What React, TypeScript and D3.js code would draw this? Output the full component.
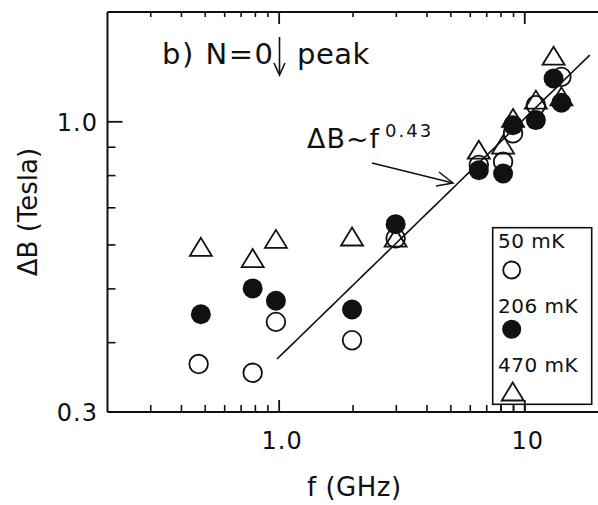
import React from "react";
import * as d3 from "d3";

// ---- data ----
const freq50 = [0.47, 0.78, 0.97, 1.98, 2.98, 6.5, 8.16, 8.96, 11.1, 14.1];
const b50 = [0.366, 0.353, 0.436, 0.404, 0.617, 0.836, 0.847, 0.953, 1.071, 1.205];

const freq206 = [0.48, 0.78, 0.97, 1.98, 2.98, 6.5, 8.16, 8.96, 11.1, 13.1, 14.1];
const b206 = [0.45, 0.501, 0.476, 0.459, 0.654, 0.818, 0.807, 0.986, 1.007, 1.197, 1.082];

const freq470 = [0.48, 0.78, 0.97, 1.98, 2.98, 6.5, 8.16, 8.96, 11.1, 13.1, 14.1];
const b470 = [0.594, 0.567, 0.614, 0.62, 0.617, 0.889, 0.908, 1.014, 1.094, 1.313, 1.109];

const fitCoef = 0.377;
const fitExponent = 0.43;
const fitRange = [0.98, 18.4];

const xDomain = [0.2, 20];
const yDomain = [0.3, 1.577];
const xMajorTicks = [1, 10];
const xMajorLabels = ["1.0", "10"];
const xMinorTicks = [0.3, 0.4, 0.5, 0.6, 0.7, 0.8, 0.9, 2, 3, 4, 5, 6, 7, 8, 9];
const yMajorTicks = [0.3, 1.0];
const yMajorLabels = ["0.3", "1.0"];
const yMinorTicks = [0.4, 0.5, 0.6, 0.7, 0.8, 0.9];

const legendLabels = ["50 mK", "206 mK", "470 mK"];

const FONT = "'DejaVu Sans', sans-serif";

export default function App() {
  const x = d3.scaleLog().domain(xDomain).range([107.5, 598.7]);
  const y = d3.scaleLog().domain(yDomain).range([412, 12]);
  const left = x(xDomain[0]);
  const right = x(xDomain[1]);
  const top = y(yDomain[1]);
  const bottom = y(yDomain[0]);

  const fitPts: [number, number][] = d3
    .range(0, 41)
    .map((i) => {
      const lf = Math.log10(fitRange[0]) + (i / 40) * (Math.log10(fitRange[1]) - Math.log10(fitRange[0]));
      const f = Math.pow(10, lf);
      return [x(f), y(fitCoef * Math.pow(f, fitExponent))];
    });
  const line = d3.line();

  const tri = (cx: number, cy: number) =>
    `M${cx},${cy - 9.5} L${cx + 11},${cy + 8.5} L${cx - 11},${cy + 8.5} Z`;

  const stroke = "#111";

  return (
    <svg
      width={598}
      height={505}
      style={{ position: "absolute", left: 0, top: 0, background: "#fff" }}
      fontFamily={FONT}
    >
      <rect x={0} y={0} width={598} height={505} fill="#fff" />
      {/* frame */}
      <line x1={left} x2={left} y1={top} y2={bottom} stroke={stroke} strokeWidth={2} />
      <line x1={left} x2={right} y1={bottom} y2={bottom} stroke={stroke} strokeWidth={2} />
      <line x1={left} x2={right} y1={top} y2={top} stroke={stroke} strokeWidth={2} />

      {/* x ticks */}
      {xMinorTicks.map((t) => (
        <g key={"xm" + t}>
          <line x1={x(t)} x2={x(t)} y1={bottom} y2={bottom - 7} stroke={stroke} strokeWidth={1.6} />
          <line x1={x(t)} x2={x(t)} y1={top} y2={top + 5} stroke={stroke} strokeWidth={1.6} />
        </g>
      ))}
      {xMajorTicks.map((t, i) => (
        <g key={"xM" + t}>
          <line x1={x(t)} x2={x(t)} y1={bottom} y2={bottom - 12} stroke={stroke} strokeWidth={1.8} />
          <line x1={x(t)} x2={x(t)} y1={top} y2={top + 12} stroke={stroke} strokeWidth={1.8} />
          <text x={x(t) + 3} y={449} fontSize={24} textAnchor="middle" fill={stroke} letterSpacing={1}>
            {xMajorLabels[i]}
          </text>
        </g>
      ))}

      {/* y ticks */}
      {yMinorTicks.map((t) => (
        <line key={"ym" + t} x1={left} x2={left + 8} y1={y(t)} y2={y(t)} stroke={stroke} strokeWidth={1.6} />
      ))}
      {yMajorTicks.map((t, i) => (
        <g key={"yM" + t}>
          <line x1={left} x2={left + 15} y1={y(t)} y2={y(t)} stroke={stroke} strokeWidth={1.8} />
          <text x={98} y={y(t) + 9} fontSize={24} textAnchor="end" fill={stroke} letterSpacing={1}>
            {yMajorLabels[i]}
          </text>
        </g>
      ))}

      {/* axis titles */}
      <text x={307} y={496} fontSize={26} fill={stroke} letterSpacing={0.5}>
        f (GHz)
      </text>
      <text
        transform="translate(37,212) rotate(-90)"
        fontSize={26}
        textAnchor="middle"
        fill={stroke}
      >
        ΔB (Tesla)
      </text>

      {/* fit line */}
      <path d={line(fitPts) || ""} fill="none" stroke={stroke} strokeWidth={1.6} />

      {/* data: 470 mK triangles */}
      {freq470.map((f, i) => (
        <path key={"t" + i} d={tri(x(f), y(b470[i]))} fill="none" stroke={stroke} strokeWidth={1.8} />
      ))}
      {/* 50 mK open circles */}
      {freq50.map((f, i) => (
        <circle key={"o" + i} cx={x(f)} cy={y(b50[i])} r={9.3} fill="none" stroke={stroke} strokeWidth={1.8} />
      ))}
      {/* 206 mK filled circles */}
      {freq206.map((f, i) => (
        <circle key={"f" + i} cx={x(f)} cy={y(b206[i])} r={10} fill={stroke} />
      ))}

      {/* annotations */}
      <text x={162} y={64} fontSize={29} fill={stroke} letterSpacing={1.5}>
        b) N=0
      </text>
      <line x1={279.5} x2={279.5} y1={37} y2={74} stroke={stroke} strokeWidth={1.6} />
      <path d="M274,63 L279.5,75 L285,63" fill="none" stroke={stroke} strokeWidth={1.6} />
      <text x={297} y={64} fontSize={29} fill={stroke} letterSpacing={0.5}>
        peak
      </text>

      <text x={307} y={148} fontSize={27} fill={stroke} letterSpacing={1}>
        ΔB~f
      </text>
      <text x={385} y={137} fontSize={18} fill={stroke} letterSpacing={2}>
        0.43
      </text>
      <line x1={372} y1={163} x2={453} y2={183} stroke={stroke} strokeWidth={1.5} />
      <path d="M439,172 L453,183 L436,186" fill="none" stroke={stroke} strokeWidth={1.5} />

      {/* legend */}
      <rect x={492.7} y={227.7} width={99} height={176.6} fill="#fff" stroke={stroke} strokeWidth={1.6} />
      {[0.3, 0.4].map((t) => null)}
      <line x1={x(8)} x2={x(8)} y1={bottom} y2={bottom - 7} stroke={stroke} strokeWidth={1.6} />
      <line x1={x(9)} x2={x(9)} y1={bottom} y2={bottom - 7} stroke={stroke} strokeWidth={1.6} />
      <line x1={x(10)} x2={x(10)} y1={bottom} y2={bottom - 12} stroke={stroke} strokeWidth={1.8} />
      <text x={498} y={248} fontSize={20} fill={stroke} letterSpacing={0.5}>
        {legendLabels[0]}
      </text>
      <circle cx={511.7} cy={270} r={8.5} fill="none" stroke={stroke} strokeWidth={1.8} />
      <text x={498} y={313} fontSize={20} fill={stroke} letterSpacing={0.5}>
        {legendLabels[1]}
      </text>
      <circle cx={511.7} cy={329.3} r={9.5} fill={stroke} />
      <text x={498} y={372} fontSize={20} fill={stroke} letterSpacing={0.5}>
        {legendLabels[2]}
      </text>
      <path d={tri(512.7, 392)} fill="#fff" stroke={stroke} strokeWidth={1.8} />
    </svg>
  );
}
